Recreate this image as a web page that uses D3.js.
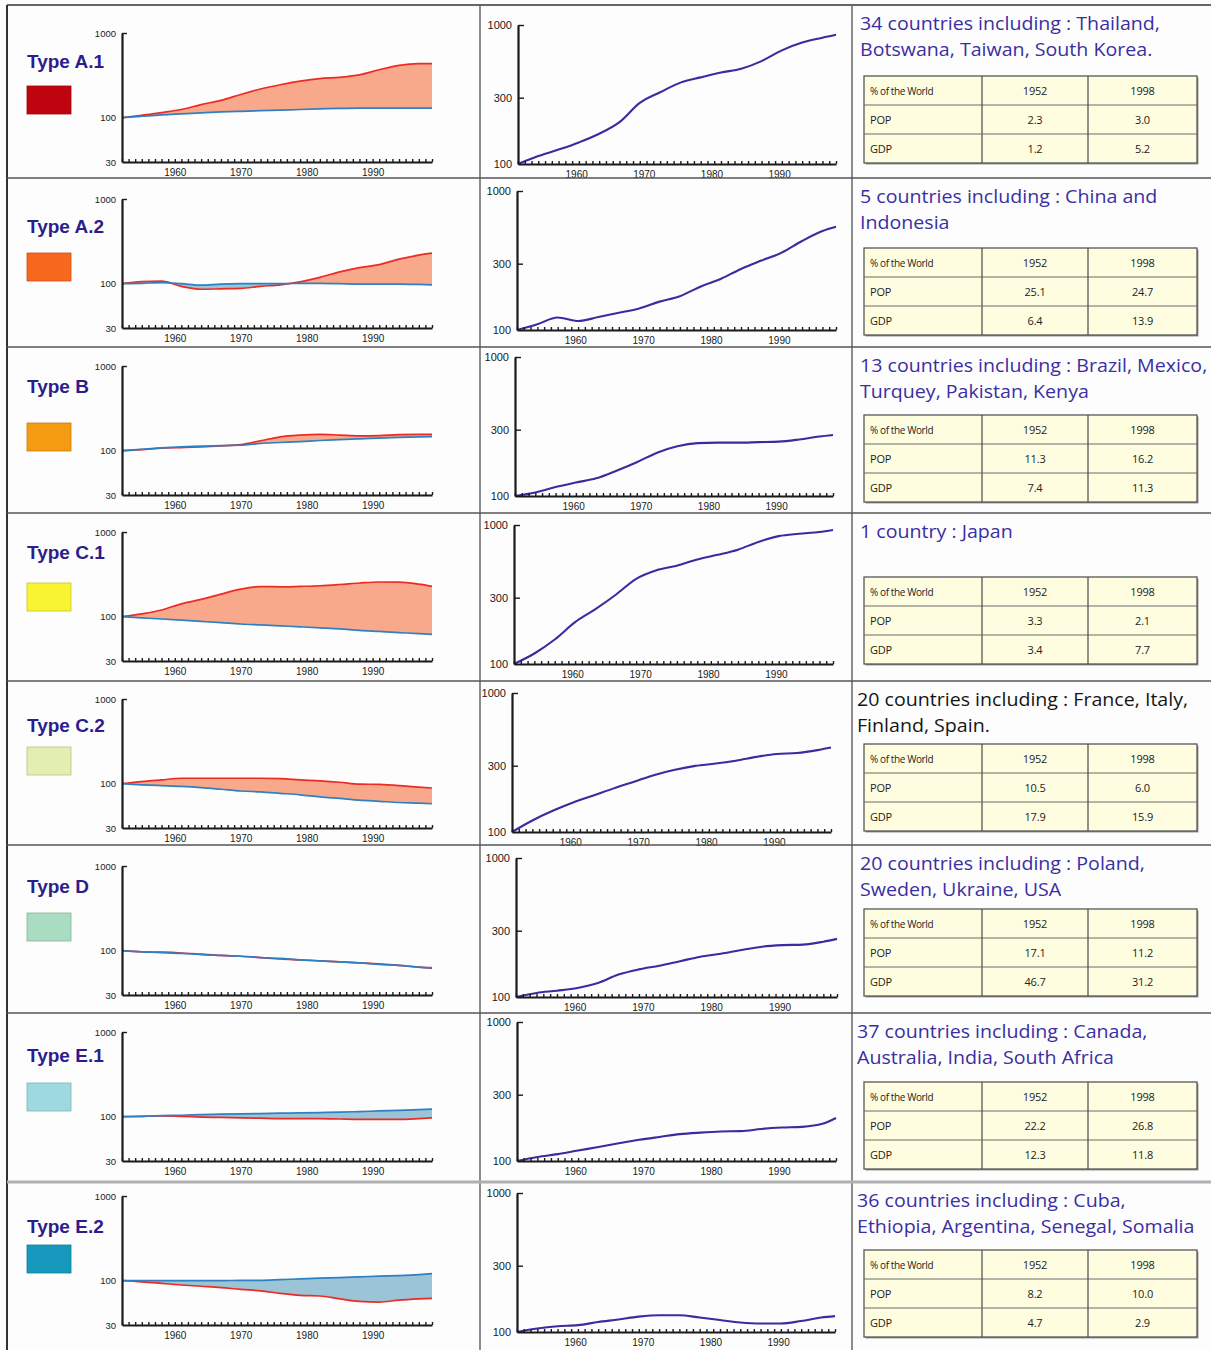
<!DOCTYPE html>
<html><head><meta charset="utf-8">
<script src="https://cdn.jsdelivr.net/npm/d3@7"></script>
<style>body{margin:0;background:#fff;} svg{display:block}</style>
</head><body><svg id="c" width="1211" height="1350"></svg>
<script>
// ---------------- DATA ----------------
const YEARS = [1952,1955,1958,1961,1964,1967,1970,1973,1976,1979,1982,1985,1988,1991,1994,1997,1999];
const TYPES = ["Type A.1","Type A.2","Type B","Type C.1","Type C.2","Type D","Type E.1","Type E.2"];

// GDP index (1952 = 100), red line
const gdpA1 = [100,107,115,125,143,160,188,218,245,270,290,300,320,368,415,435,435];
const gdpA2 = [100,106,107,93,86,87,88,93,97,105,119,138,155,168,195,218,230];
const gdpB  = [100,103,107,109,111,114,118,131,146,153,156,153,150,151,155,156,156];
const gdpC1 = [100,108,120,142,160,185,212,227,225,228,232,240,250,257,256,242,228];
const gdpC2 = [100,106,111,116,116,116,116,116,115,111,108,104,99,98,95,91,89];
const gdpD  = [100,97,96,94,91,88,86,83,80,78,76,74,72,70,67,64,62];
const gdpE1 = [100,101,102,101,99,98,97,96,95,95,95,94,93,93,93,95,97];
const gdpE2 = [100,97,93,89,86,83,79,76,71,67,66,61,57,56,59,61,62];

// Population index (1952 = 100), blue line
const popA1 = [100,104,108,111,114,117,119,121,123,125,127,129,130,130,130,130,130];
const popA2 = [100,101,103,100,96,99,100,100,100,101,101,100,99,99,99,98,97];
const popB  = [100,104,108,111,113,115,116,122,125,128,132,135,138,141,144,146,147];
const popC1 = [100,97,94,91,88,85,82,80,78,76,74,72,69,67,65,63,62];
const popC2 = [100,97,95,93,90,86,82,80,77,74,70,67,64,62,60,59,58];
const popD  = [100,97,95,93,90,88,86,83,81,78,76,74,72,69,67,64,63];
const popE1 = [100,101,103,104,106,107,108,109,110,111,112,113,115,117,119,121,123];
const popE2 = [100,100,100,100,100,100,101,101,103,105,107,109,111,113,115,118,121];

// GDP per capita index (1952 = 100), middle column
const capA1 = [100,114,127,143,165,200,275,328,385,420,455,485,550,657,747,810,850];
const capA2 = [100,110,123,116,124,133,143,160,175,205,233,275,316,360,437,515,553];
const capB  = [100,106,116,125,134,152,175,205,228,240,242,242,244,246,255,268,275];
const capC1 = [100,119,150,200,248,315,410,473,510,565,610,665,755,832,865,890,920];
const capC2 = [100,121,142,163,183,206,230,257,280,299,311,326,347,364,370,388,405];
const capD  = [100,107,111,116,126,145,158,168,181,195,205,218,230,236,238,250,262];
const capE1 = [100,107,112,119,126,134,142,149,156,160,163,164,170,174,176,185,204];
const capE2 = [100,106,110,112,118,123,129,132,132,127,122,117,115,115,120,127,130];

const GDP = [gdpA1,gdpA2,gdpB,gdpC1,gdpC2,gdpD,gdpE1,gdpE2];
const POP = [popA1,popA2,popB,popC1,popC2,popD,popE1,popE2];
const CAP = [capA1,capA2,capB,capC1,capC2,capD,capE1,capE2];

const LEFT_TICKS = [30,100,1000];
const MID_TICKS = [100,300,1000];
const YEAR_LABELS = [1960,1970,1980,1990];

const DESC = [
  ["34 countries including : Thailand,","Botswana, Taiwan, South Korea."],
  ["5 countries including : China and","Indonesia"],
  ["13 countries including : Brazil, Mexico,","Turquey, Pakistan, Kenya"],
  ["1 country  : Japan"],
  ["20 countries including : France, Italy,","Finland, Spain."],
  ["20 countries including : Poland,","Sweden, Ukraine, USA"],
  ["37 countries including : Canada,","Australia, India, South Africa"],
  ["36 countries including : Cuba,","Ethiopia, Argentina, Senegal, Somalia"]
];
const TABLE_HEAD = ["% of the World","1952","1998"];
const TABLE_ROWS = ["POP","GDP"];
const POP_1952 = [2.3,25.1,11.3,3.3,10.5,17.1,22.2,8.2];
const POP_1998 = [3.0,24.7,16.2,2.1,6.0,11.2,26.8,10.0];
const GDP_1952 = [1.2,6.4,7.4,3.4,17.9,46.7,12.3,4.7];
const GDP_1998 = [5.2,13.9,11.3,7.7,15.9,31.2,11.8,2.9];

// ---------------- LAYOUT / STYLE ----------------
const SWATCH_COLORS = ["#c0040f","#f7681c","#f59b12","#f9f431","#e2efb0","#a9dcc0","#9fd9e0","#1799bd"];
const DESC_COLORS = ["#3a2ea3","#3a2ea3","#3a2ea3","#3a2ea3","#151515","#3a2ea3","#3a2ea3","#3a2ea3"];
const DESC_X = [860,860,860,860,857,860,857,857];
const ROW_TOP = [5,178,347,513,681,845,1013,1182];
const LEFT_TOP = [33,199,366,532,699,866,1032,1196];
const LEFT_H = 129;
const MID_TOP = [25,191,357,525,693,858,1022,1193];
const MID_H = 139;
const MID_X = [518,517,515,514,512,516,517,517];
const MID_R = [836,836,833,833,831,837,836,835];
const TITLE_DY = [63,55,46,46,51,48,49,51];
const SWATCH_DY = [81,75,76,70,66,68,70,63];
const TABLE_DY = [71,70,68,64,63,64,69,68];

const svg = d3.select("#c");
svg.append("rect").attr("width",1211).attr("height",1350).attr("fill","#fdfdfd");
const defs = svg.append("defs");
const fmt1 = d3.format(".1f");
const curve = d3.curveMonotoneX;

function styleAxis(a, domainW){
  a.select(".domain").attr("stroke","#1a1a1a").attr("stroke-width",domainW);
  a.selectAll(".tick line").attr("stroke","#1a1a1a").attr("stroke-width",1.4);
  a.selectAll("text").attr("fill","#1a1a1a");
}

function xAxes(g, x, bot, dx){
  const minor = g.append("g").attr("transform",`translate(0,${bot})`)
    .call(d3.axisBottom(x).tickValues(d3.range(1952,2000)).tickSizeInner(-3).tickSizeOuter(0).tickFormat(""));
  styleAxis(minor, 2.2);
  const lab = g.append("g").attr("transform",`translate(${dx},${bot})`)
    .call(d3.axisBottom(x).tickValues(YEAR_LABELS).tickSize(0).tickPadding(7).tickFormat(d3.format("d")));
  lab.select(".domain").remove();
  lab.selectAll("text").attr("font-family","Liberation Sans, Arial, sans-serif").attr("font-size",10).attr("fill","#1a1a1a");
}

TYPES.forEach((t,i)=>{
  const rt = ROW_TOP[i];
  // title + swatch
  svg.append("text").attr("x",27).attr("y",rt+TITLE_DY[i]).text(t)
    .attr("font-family","Liberation Sans, Arial, sans-serif").attr("font-weight","bold")
    .attr("font-size",19).attr("fill","#2d1d8c");
  svg.append("rect").attr("x",27).attr("y",rt+SWATCH_DY[i]).attr("width",44).attr("height",28)
    .attr("fill",SWATCH_COLORS[i]).attr("stroke",d3.color(SWATCH_COLORS[i]).darker(0.6)).attr("stroke-width",0.8);

  // ---- left chart ----
  const top = LEFT_TOP[i], bot = top+LEFT_H;
  const x = d3.scaleLinear().domain([1952,1999]).range([122,432]);
  const y = d3.scaleLog().domain([30,1000]).range([bot,top]);
  const gdp = GDP[i], pop = POP[i];
  const g = svg.append("g");
  const xa = (d,k)=>x(YEARS[k]);
  defs.append("clipPath").attr("id","ca"+i).append("path")
    .attr("d", d3.area().curve(curve).x(xa).y0(top-20).y1(d=>y(d))(pop));
  defs.append("clipPath").attr("id","cb"+i).append("path")
    .attr("d", d3.area().curve(curve).x(xa).y0(d=>y(d)).y1(bot+20)(pop));
  const band = d3.area().curve(curve).x(xa).y0((d,k)=>y(pop[k])).y1((d,k)=>y(gdp[k]));
  g.append("path").attr("d",band(gdp)).attr("fill","#f9a98b").attr("clip-path",`url(#ca${i})`);
  g.append("path").attr("d",band(gdp)).attr("fill","#9cc4d7").attr("clip-path",`url(#cb${i})`);
  const line = d3.line().curve(curve).x(xa).y(d=>y(d));
  g.append("path").attr("d",line(gdp)).attr("fill","none").attr("stroke","#ee2a24").attr("stroke-width",1.7);
  g.append("path").attr("d",line(pop)).attr("fill","none").attr("stroke","#2e80c2").attr("stroke-width",1.7);

  const ya = g.append("g").attr("transform","translate(122,0)")
    .call(d3.axisLeft(y).tickValues(LEFT_TICKS).tickFormat(d3.format("d")).tickSizeInner(-5).tickSizeOuter(0).tickPadding(6));
  styleAxis(ya, 2.2);
  ya.selectAll(".tick line").filter(d=>d!==1000).remove();
  ya.selectAll("text").attr("font-family","Liberation Sans, Arial, sans-serif").attr("font-size",9.5);
  xAxes(g, x, bot, 0);

  // ---- middle chart ----
  const mt = MID_TOP[i], mb = mt+MID_H;
  const xm = d3.scaleLinear().domain([1952,1999]).range([MID_X[i],MID_R[i]]);
  const ym = d3.scaleLog().domain([100,1000]).range([mb,mt]);
  const gm = svg.append("g");
  gm.append("path").attr("d", d3.line().curve(curve).x((d,k)=>xm(YEARS[k])).y(d=>ym(d))(CAP[i]))
    .attr("fill","none").attr("stroke","#3b2b9e").attr("stroke-width",2.1);
  const yma = gm.append("g").attr("transform",`translate(${MID_X[i]},0)`)
    .call(d3.axisLeft(ym).tickValues(MID_TICKS).tickFormat(d3.format("d")).tickSizeInner(-6).tickSizeOuter(0).tickPadding(6));
  styleAxis(yma, 2.2);
  yma.selectAll(".tick line").filter(d=>d===100).remove();
  yma.selectAll("text").attr("font-family","Liberation Sans, Arial, sans-serif").attr("font-size",11);
  xAxes(gm, xm, mb, 4);

  // ---- right column ----
  const dg = svg.append("g");
  DESC[i].forEach((s,j)=>{
    dg.append("text").attr("class","desc").attr("data-x",DESC_X[i]).attr("data-y",rt+25+j*26).text(s)
      .attr("font-family","Open Sans, sans-serif").attr("font-size",19).attr("fill",DESC_COLORS[i]);
  });

  const tx = 864, tw = 333, ty = rt+TABLE_DY[i], rh = 29;
  const cols = [864,982,1088,1197];
  const tg = svg.append("g");
  tg.append("rect").attr("x",tx+1.5).attr("y",ty+1.5).attr("width",tw).attr("height",rh*3).attr("fill","#9a9a9a");
  tg.append("rect").attr("x",tx).attr("y",ty).attr("width",tw).attr("height",rh*3)
    .attr("fill","#fffde0").attr("stroke","#4a4a4a").attr("stroke-width",1.2);
  [1,2].forEach(k=>{
    tg.append("line").attr("x1",tx).attr("x2",tx+tw).attr("y1",ty+rh*k).attr("y2",ty+rh*k).attr("stroke","#6a6a6a").attr("stroke-width",1);
    tg.append("line").attr("x1",cols[k]).attr("x2",cols[k]).attr("y1",ty).attr("y2",ty+rh*3).attr("stroke","#4a4a4a").attr("stroke-width",1.2);
  });
  const cells = [
    [TABLE_HEAD[0],TABLE_HEAD[1],TABLE_HEAD[2]],
    [TABLE_ROWS[0],fmt1(POP_1952[i]),fmt1(POP_1998[i])],
    [TABLE_ROWS[1],fmt1(GDP_1952[i]),fmt1(GDP_1998[i])]
  ];
  cells.forEach((r,ri)=>{
    r.forEach((c,ci)=>{
      tg.append("text").text(c)
        .attr("x", ci===0 ? tx+6 : (cols[ci]+cols[ci+1])/2)
        .attr("y", ty+rh*ri+rh/2+4.5)
        .attr("text-anchor", ci===0 ? "start" : "middle")
        .attr("font-family","Open Sans, sans-serif")
        .attr("font-size", (ri===0&&ci===0) ? 10 : 11)
        .attr("letter-spacing", (ri===0&&ci===0) ? -0.4 : -0.2)
        .attr("fill","#222");
    });
  });
});

// condense the description text to the reference width
const descs = svg.selectAll("text.desc");
const refW = descs.nodes()[0].getComputedTextLength();
const f = 300/refW;
descs.each(function(){
  const el = d3.select(this);
  el.attr("transform",`translate(${+el.attr("data-x")},${+el.attr("data-y")}) scale(${f},1)`);
});

// ---- frame lines ----
const fr = svg.append("g");
fr.append("line").attr("x1",7).attr("x2",1211).attr("y1",5).attr("y2",5).attr("stroke","#333").attr("stroke-width",1.5);
fr.append("line").attr("x1",7).attr("x2",7).attr("y1",5).attr("y2",1350).attr("stroke","#333").attr("stroke-width",2);
[480,852].forEach(xx=>fr.append("line").attr("x1",xx).attr("x2",xx).attr("y1",5).attr("y2",1350).attr("stroke","#666").attr("stroke-width",1.5));
ROW_TOP.slice(1).forEach(yy=>{
  const light = yy===1182;
  fr.append("line").attr("x1",7).attr("x2",1211).attr("y1",yy).attr("y2",yy)
    .attr("stroke", light ? "#b0b0b0" : "#555").attr("stroke-width", light ? 3 : 1.6);
});
</script>
</body></html>
